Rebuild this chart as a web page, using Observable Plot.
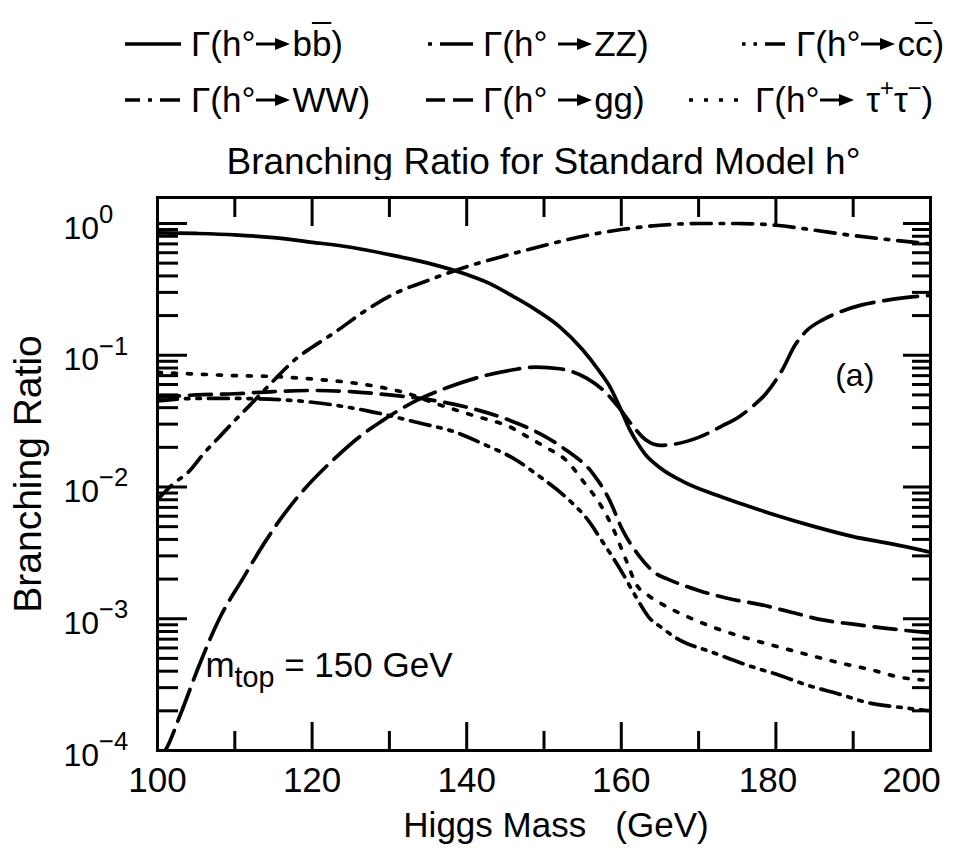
<!DOCTYPE html>
<html>
<head>
<meta charset="utf-8">
<script src="https://cdn.jsdelivr.net/npm/d3@7"></script>
<script src="https://cdn.jsdelivr.net/npm/@observablehq/plot@0.6"></script>
<style>
  html, body { margin: 0; padding: 0; background: #fff; }
  body { font-family: "Liberation Sans", Arial, Helvetica, sans-serif; color: #000; }
  #wrap { position: relative; width: 959px; height: 856px; overflow: hidden; background: #fff; }
  .leg { position: absolute; height: 34px; display: flex; align-items: center; white-space: nowrap; }
  .leg > svg { display: block; }
  .leg .lab { font-size: 35px; line-height: 34px; margin-left: 10px; display: inline-flex; align-items: center; }
  .arr { display: inline-block; margin: 0 2px 0 1px; }
  .ob { text-decoration: overline; text-decoration-thickness: 2px; }
  .leg sup { font-size: 0.68em; position: relative; top: -0.5em; line-height: 0; }
  #title { position: absolute; left: 0; width: 1087px; text-align: center; top: 140px; font-size: 37px; line-height: 44px; white-space: nowrap; }
  #chart { position: absolute; left: 0; top: 180px; }
</style>
</head>
<body>
<div id="wrap">
  <div id="legend"></div>
  <div id="title"></div>
  <div id="chart"></div>
</div>
<script>
// ---------------- data ----------------
// Higgs mass in GeV, branching ratios (log scale)
const mBB  = [100, 105, 110, 115, 120, 125, 130, 135, 140, 143, 146, 149, 152, 155, 157, 158.5, 160, 161, 162, 163, 165, 168, 172, 176, 180, 185, 190, 195, 200];
const brBB = [0.85, 0.84, 0.82, 0.78, 0.72, 0.66, 0.58, 0.50, 0.41, 0.35, 0.28, 0.22, 0.165, 0.11, 0.078, 0.058, 0.038, 0.028, 0.022, 0.018, 0.014, 0.011, 0.0088, 0.0073, 0.0061, 0.0050, 0.0042, 0.0037, 0.0032];

const mWW  = [100, 102, 104, 106, 108, 110, 112, 115, 118, 120, 123, 127, 131, 135, 140, 145, 150, 155, 160, 165, 170, 175, 180, 185, 190, 195, 200];
const brWW = [0.0080, 0.0105, 0.013, 0.018, 0.024, 0.032, 0.042, 0.064, 0.095, 0.115, 0.15, 0.22, 0.30, 0.37, 0.47, 0.57, 0.68, 0.80, 0.90, 0.97, 1.0, 1.0, 0.97, 0.89, 0.81, 0.75, 0.70];

const mZZ  = [100, 101, 103, 105.5, 108, 111, 114, 116, 118.5, 122.7, 127, 129, 131, 134, 137.5, 141.7, 146, 149, 152, 155.5, 158, 159.7, 161.5, 163.2, 165, 167, 170, 173, 175.2, 177, 178.7, 180.8, 182.5, 184, 186, 188, 191, 194, 197, 200];
const brZZ = [0.000085, 0.0001, 0.00019, 0.00046, 0.0010, 0.0020, 0.0039, 0.0058, 0.0089, 0.016, 0.0263, 0.0316, 0.0376, 0.0468, 0.0569, 0.0684, 0.0776, 0.0813, 0.079, 0.067, 0.052, 0.040, 0.029, 0.0227, 0.0207, 0.0212, 0.0238, 0.029, 0.034, 0.041, 0.051, 0.077, 0.12, 0.154, 0.185, 0.21, 0.24, 0.26, 0.275, 0.285];

const mGG  = [100, 105, 110, 115, 120, 125, 130, 134, 137, 141.7, 145, 149.4, 152.9, 156.3, 158.5, 160.1, 162.3, 164.5, 166, 170, 174, 178, 182, 186, 190, 194, 200];
const brGG = [0.048, 0.050, 0.051, 0.053, 0.054, 0.053, 0.050, 0.047, 0.044, 0.038, 0.033, 0.0255, 0.019, 0.0127, 0.0079, 0.0048, 0.0030, 0.0022, 0.0020, 0.00164, 0.00142, 0.00128, 0.00112, 0.00098, 0.00091, 0.00085, 0.00078];

const mCC  = [100, 105, 110, 116, 120, 127, 133.5, 139, 142, 146.5, 149.2, 153.3, 155.5, 157.5, 160, 161.8, 163.6, 165.3, 167, 172, 176.5, 180, 184.3, 188, 192, 196, 200];
const brCC = [0.045, 0.047, 0.047, 0.046, 0.044, 0.038, 0.031, 0.0255, 0.0214, 0.0159, 0.0123, 0.0079, 0.0058, 0.0039, 0.0023, 0.0015, 0.00102, 0.00085, 0.00072, 0.00055, 0.00044, 0.00038, 0.00031, 0.00027, 0.00023, 0.000213, 0.0002];

const mTT  = [100, 105, 110, 115, 120, 125, 129, 132, 136, 140.8, 146, 148, 150.3, 152.9, 155, 157.2, 158.9, 160.6, 162, 163.5, 165, 168.5, 172.4, 176.3, 180.4, 184.3, 188.4, 192.3, 196, 200];
const brTT = [0.074, 0.072, 0.070, 0.069, 0.066, 0.062, 0.057, 0.052, 0.043, 0.035, 0.0278, 0.0238, 0.0199, 0.0159, 0.0112, 0.0075, 0.0049, 0.0028, 0.0018, 0.0015, 0.00132, 0.00104, 0.00084, 0.00071, 0.00061, 0.00053, 0.00046, 0.00041, 0.00036, 0.00034];

// axis ticks and labels
const xMajor = [100, 120, 140, 160, 180, 200];
const xMinor = [110, 130, 150, 170, 190];
const xLabelsMain = [100, 120, 140, 160];
const xLabel180 = [180];
const xLabel200 = [200];
const yMajor = [1e-4, 1e-3, 1e-2, 1e-1, 1];
const yExponents = ["−4", "−3", "−2", "−1", "0"];
const yMinor = [1e-4, 1e-3, 1e-2, 1e-1].flatMap(d => [2, 3, 4, 5, 6, 7, 8, 9].map(k => k * d));

// texts
const titleText = "Branching Ratio for Standard Model h°";
const xTitle = "Higgs Mass\u00a0\u00a0\u00a0(GeV)";
const yTitle = "Branching Ratio";
const notes = [
  {m: 106.2, br: 4.4e-4, text: "m|top| = 150 GeV", anchor: "start"},
  {m: 190.2, br: 0.070, text: "(a)", anchor: "middle"}
];

// series styles
const series = [
  {key: "bb", m: mBB, br: brBB, dash: null},
  {key: "WW", m: mWW, br: brWW, dash: "20,9,3.5,9"},
  {key: "ZZ", m: mZZ, br: brZZ, dash: "34,10"},
  {key: "gg", m: mGG, br: brGG, dash: "22,10"},
  {key: "cc", m: mCC, br: brCC, dash: "20,8,3.5,8,3.5,8"},
  {key: "tt", m: mTT, br: brTT, dash: "4,11"}
];

// legend entries (order of the reference); "@" marks the arrow
const legendItems = [
  {key: "bb", label: 'Γ(h°@b<span class="ob">b</span>)', dash: null, left: 125, w: 56, top: 27},
  {key: "ZZ", label: "Γ(h°&nbsp;@ZZ)", dash: "4,8,34", left: 428, w: 45, top: 27},
  {key: "cc", label: 'Γ(h°@c<span class="ob">c</span>)', dash: "3.5,8,3.5,8,20", left: 742, w: 44, top: 27},
  {key: "WW", label: "Γ(h°@WW)", dash: "15,8,4,8,20", left: 125, w: 56, top: 83},
  {key: "gg", label: "Γ(h°&nbsp;@gg)", dash: "19,8,20", left: 426, w: 47, top: 83},
  {key: "tt", label: "Γ(h°@&nbsp;τ<sup>+</sup>τ<sup>−</sup>)", dash: "4,11", left: 689, w: 56, top: 83}
];

// ---------------- legend & title (HTML) ----------------
const arrowSvg = '<svg class="arr" width="34" height="16" viewBox="0 0 34 16"><line x1="0" y1="8" x2="22" y2="8" stroke="#000" stroke-width="3"/><polygon points="19,2 34,8 19,14" fill="#000"/></svg>';
const legend = document.getElementById("legend");
legendItems.forEach(it => {
  const div = document.createElement("div");
  div.className = "leg";
  div.style.left = it.left + "px";
  div.style.top = it.top + "px";
  div.innerHTML =
    `<svg width="${it.w}" height="34"><line x1="0" y1="17" x2="${it.w}" y2="17" stroke="#000" stroke-width="3.5"` +
    (it.dash ? ` stroke-dasharray="${it.dash}"` : "") + `/></svg><span class="lab">${it.label.replace("@", arrowSvg)}</span>`;
  legend.appendChild(div);
});
document.getElementById("title").textContent = titleText;

// ---------------- chart ----------------
const font = '"Liberation Sans", Arial, Helvetica, sans-serif';
const chart = Plot.plot({
  width: 959,
  height: 676,
  marginTop: 17,
  marginLeft: 157,
  marginRight: 29,
  marginBottom: 106,
  style: {fontFamily: font, background: "white", color: "black", overflow: "visible"},
  x: {domain: [100, 200], axis: null},
  y: {type: "log", domain: [1e-4, 1.575], axis: null},
  marks: [
    // curves
    ...series.map(s => Plot.line(s.m.map((m, i) => ({m, br: s.br[i]})), {
      x: "m", y: "br", stroke: "black", strokeWidth: 3.7,
      strokeDasharray: s.dash, strokeLinejoin: "round",
      curve: "monotone-x", clip: true
    })),
    // inward ticks
    Plot.axisX(xMajor, {anchor: "bottom", tickSize: -28, strokeWidth: 3, tickFormat: () => "", label: null}),
    Plot.axisX(xMinor, {anchor: "bottom", tickSize: -19, strokeWidth: 3, tickFormat: () => "", label: null}),
    Plot.axisX(xMajor, {anchor: "top", tickSize: -28, strokeWidth: 3, tickFormat: () => "", label: null}),
    Plot.axisX(xMinor, {anchor: "top", tickSize: -19, strokeWidth: 3, tickFormat: () => "", label: null}),
    Plot.axisY(yMajor, {anchor: "left", tickSize: -30, strokeWidth: 3, tickFormat: () => "", label: null}),
    Plot.axisY(yMinor, {anchor: "left", tickSize: -21, strokeWidth: 3, tickFormat: () => "", label: null}),
    Plot.axisY(yMajor, {anchor: "right", tickSize: -28, strokeWidth: 3, tickFormat: () => "", label: null}),
    Plot.axisY(yMinor, {anchor: "right", tickSize: -19, strokeWidth: 3, tickFormat: () => "", label: null}),
    Plot.frame({stroke: "black", strokeWidth: 3}),
    // tick labels
    Plot.text(yMajor, {y: d => d, text: (d, i) => "10^" + yExponents[i], frameAnchor: "left",
      textAnchor: "start", dx: -94, dy: 5, fontSize: 32}),
    Plot.text(xLabelsMain, {x: d => d, text: d => String(d), frameAnchor: "bottom", dy: 41, fontSize: 35}),
    Plot.text(xLabel180, {x: d => d, text: d => String(d), frameAnchor: "bottom", dy: 41, dx: -8, fontSize: 35}),
    Plot.text(xLabel200, {x: d => d, text: d => String(d), frameAnchor: "bottom", dy: 41, dx: -19, fontSize: 35}),
    // axis titles
    Plot.text([xTitle], {text: d => d, frameAnchor: "bottom", dy: 86, dx: 12, fontSize: 35}),
    Plot.text([yTitle], {text: d => d, frameAnchor: "left", textAnchor: "middle", rotate: -90, dx: -129, fontSize: 39}),
    // annotations
    Plot.text(notes.filter(n => n.anchor === "start"), {x: "m", y: "br", text: "text", textAnchor: "start", fontSize: 35}),
    Plot.text(notes.filter(n => n.anchor === "middle"), {x: "m", y: "br", text: "text", fontSize: 32})
  ]
});
document.getElementById("chart").appendChild(chart);

// superscripts / subscripts inside SVG texts
const NS = "http://www.w3.org/2000/svg";
chart.querySelectorAll("text").forEach(t => {
  const s = t.textContent;
  if (s.includes("^")) {
    const [base, exp] = s.split("^");
    t.textContent = base;
    const ts = document.createElementNS(NS, "tspan");
    ts.setAttribute("dy", "-0.62em");
    ts.setAttribute("font-size", "0.8em");
    ts.textContent = exp;
    t.appendChild(ts);
  } else if (s.includes("|")) {
    const [a, sub, rest] = s.split("|");
    t.textContent = a;
    const s1 = document.createElementNS(NS, "tspan");
    s1.setAttribute("dy", "10");
    s1.setAttribute("font-size", "0.82em");
    s1.textContent = sub;
    const s2 = document.createElementNS(NS, "tspan");
    s2.setAttribute("dy", "-10");
    s2.textContent = rest.replace(/ /g, "\u00a0");
    t.appendChild(s1);
    t.appendChild(s2);
  }
});
</script>
</body>
</html>
